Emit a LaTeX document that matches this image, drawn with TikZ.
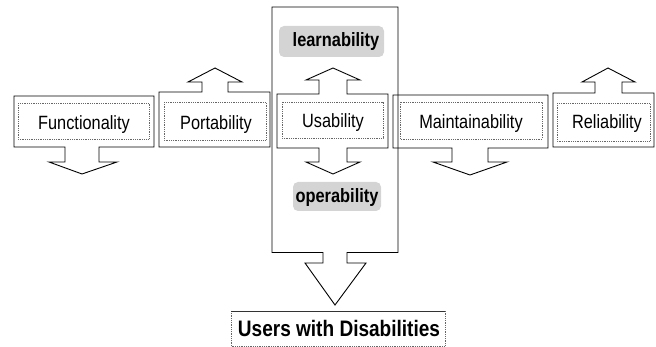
\documentclass[tikz,border=0pt]{standalone}
\usepackage{fontspec}
\newfontfamily\lblfont[FakeStretch=0.85]{Liberation Sans}
\begin{document}
\begin{tikzpicture}[x=1pt,y=-1pt,
  outline/.style={draw=black,line width=0.9pt,line join=miter},
  innerbox/.style={draw=black!60,line width=0.8pt,densely dotted},
  label/.style={inner sep=0pt,anchor=base,font=\lblfont\fontsize{19.2}{20}\selectfont},
  sublabel/.style={inner sep=0pt,anchor=base,font=\lblfont\bfseries\fontsize{19.3}{20}\selectfont},
  shade/.style={fill=black!17,rounded corners=5pt,draw=none}]
\useasboundingbox (0,0) rectangle (656,347);

% Usability column with its outgoing block arrow
\draw[outline] (272,7) -- (398,7) -- (398,252.5) -- (347,252.5) -- (347,263)
  -- (366,263) -- (335,305) -- (305,263) -- (323,263) -- (323,252.5)
  -- (272,252.5) -- cycle;

% sub-characteristics of usability
\fill[shade] (279,26) rectangle (384,57);
\node[sublabel] (learn) at (336,47) {learnability};
\fill[shade] (293,182) rectangle (381,211);
\node[sublabel] (oper) at (337,203) {operability};

% Functionality
\draw[outline] (14,96) -- (154,96) -- (154,147) -- (99,147) -- (99,162)
  -- (117,162) -- (82,174) -- (49,162) -- (65,162) -- (65,147) -- (14,147) -- cycle;
\draw[innerbox] (18,103) rectangle (149,139);
\node[label] (func) at (84,130) {Functionality};

% Portability
\draw[outline] (159,92) -- (202,92) -- (202,82) -- (188,82) -- (215,68)
  -- (242,82) -- (228,82) -- (228,92) -- (270,92) -- (270,147) -- (159,147) -- cycle;
\draw[innerbox] (164,102) rectangle (266,140);
\node[label] (port) at (216,130) {Portability};

% Usability
\draw[outline] (277,94) -- (319,94) -- (319,80) -- (306,80) -- (333,68)
  -- (360,80) -- (347,80) -- (347,94) -- (388,94) -- (388,148) -- (347,148)
  -- (347,162) -- (360,162) -- (333,174) -- (306,162) -- (319,162)
  -- (319,148) -- (277,148) -- cycle;
\draw[innerbox] (282,102) rectangle (383,138);
\node[label] (usab) at (333,127.5) {Usability};

% Maintainability
\draw[outline] (393,95) -- (548,95) -- (548,148) -- (488,148) -- (488,162)
  -- (507,162) -- (470,175) -- (433,162) -- (452,162) -- (452,148) -- (393,148) -- cycle;
\draw[innerbox] (400,102) rectangle (542,139);
\node[label] (main) at (471,129) {Maintainability};

% Reliability
\draw[outline] (553,93) -- (595,93) -- (595,82) -- (582,82) -- (608,68)
  -- (635,82) -- (622,82) -- (622,93) -- (654,93) -- (654,147) -- (553,147) -- cycle;
\draw[innerbox] (557,103) rectangle (650,141);
\node[label] (reli) at (607,129) {Reliability};

% target group
\draw[innerbox] (231,311) rectangle (445,346.5);
\draw[black!80,line width=0.8pt] (231,311) -- (445,311);
\node[sublabel,font=\lblfont\bfseries\fontsize{22.4}{24}\selectfont] (users) at (339,336.5) {Users with Disabilities};
\end{tikzpicture}
\end{document}
